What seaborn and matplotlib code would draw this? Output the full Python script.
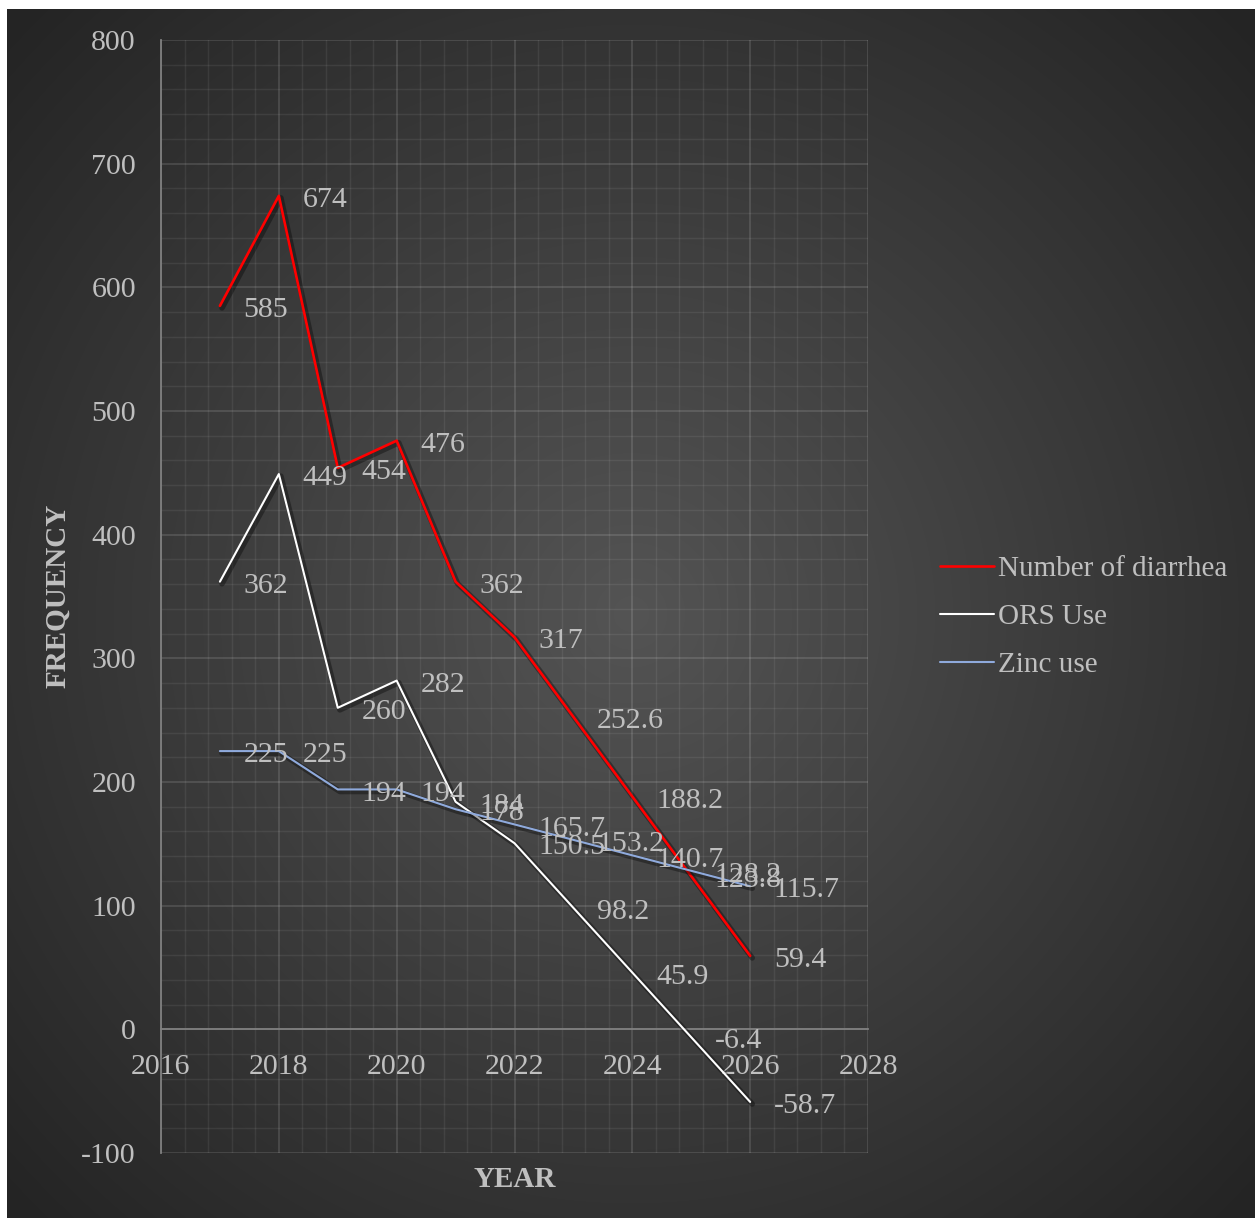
import numpy as np
import pandas as pd
import matplotlib
matplotlib.use('Agg')
import matplotlib.pyplot as plt
import matplotlib.patheffects as pe
from matplotlib.lines import Line2D
from matplotlib.ticker import MultipleLocator, FixedLocator
import seaborn as sns

sns.set_style('dark')
plt.rcParams['font.family'] = ['Liberation Serif', 'DejaVu Serif']
plt.rcParams['axes.unicode_minus'] = False

# 数据
years = [2017, 2018, 2019, 2020, 2021, 2022, 2023, 2024, 2025, 2026]
diarrhea = [585, 674, 454, 476, 362, 317, 252.6, 188.2, 123.8, 59.4]
ors_use = [362, 449, 260, 282, 184, 150.5, 98.2, 45.9, -6.4, -58.7]
zinc_use = [225, 225, 194, 194, 178, 165.7, 153.2, 140.7, 128.2, 115.7]
series_names = ['Number of diarrhea', 'ORS Use', 'Zinc use']
series_colors = ['#ff0000', '#ffffff', '#8faadc']
series_widths = [1.9, 1.5, 1.5]

df = pd.DataFrame({'year': years, series_names[0]: diarrhea,
                   series_names[1]: ors_use, series_names[2]: zinc_use})

txt_color = '#bfbfbf'
W, H = 1255, 1218

fig = plt.figure(figsize=(W / 100, H / 100), dpi=100, facecolor='white')

# 背景: 径向渐变
bg = fig.add_axes([7 / W, 0, 1 - 7 / W, 1 - 9 / H], zorder=0)
gw, gh = W - 7, H - 9
gx, gy = np.meshgrid(np.arange(gw), np.arange(gh))
dist = np.hypot(gx - gw / 2, gy - gh / 2)
val = np.clip(84 - 0.056 * dist, 36, 255) / 255.0
bg.imshow(np.dstack([val, val, val]), aspect='auto', interpolation='bilinear')
bg.axis('off')

# 主图
ax = fig.add_axes([161 / W, 1 - 1153 / H, (868 - 161) / W, (1153 - 40) / H], zorder=1)
ax.patch.set_alpha(0)

shadow = [pe.SimpleLineShadow(offset=(1.5, -1.5), shadow_color='black', alpha=0.35, linewidth=4),
          pe.Normal()]
for name, color, lw in zip(series_names, series_colors, series_widths):
    sns.lineplot(data=df, x='year', y=name, ax=ax, color=color, lw=lw,
                 path_effects=shadow, legend=False, zorder=3)

# 数据标签
for name in series_names:
    for x, v in zip(df['year'], df[name]):
        ax.annotate(f'{v:g}', (x, v), xytext=(17, -3), textcoords='offset points',
                    ha='left', va='center', fontsize=21.5, color=txt_color, zorder=5)

ax.set_xlim(2016, 2028)
ax.set_ylim(-100, 800)
ax.xaxis.set_major_locator(MultipleLocator(2))
ax.xaxis.set_minor_locator(FixedLocator(np.linspace(2016, 2028, 31)))
ax.yaxis.set_major_locator(MultipleLocator(100))
ax.yaxis.set_minor_locator(MultipleLocator(20))

ax.grid(which='major', color='white', alpha=0.14, lw=1.2)
ax.grid(which='minor', color='white', alpha=0.07, lw=1.0)
ax.set_axisbelow(True)

for s in ['top', 'right']:
    ax.spines[s].set_visible(False)
ax.spines['bottom'].set_position(('data', 0))
for s in ['bottom', 'left']:
    ax.spines[s].set_color('#808080')
    ax.spines[s].set_linewidth(1.3)

ax.tick_params(which='major', direction='out', length=6, width=1.3, color='#808080',
               pad=12, labelsize=21.5, labelcolor=txt_color)
ax.tick_params(which='minor', length=0)
ax.set_xlabel('')
ax.set_ylabel('')

ax.text(0.5, -0.012, 'YEAR', transform=ax.transAxes, ha='center', va='top',
        fontsize=21, fontweight='bold', color=txt_color)
fig.text(58 / W, 1 - 596 / H, 'FREQUENCY', rotation=90, ha='center', va='center',
         fontsize=21, fontweight='bold', color=txt_color)

# 图例
handles = [Line2D([], [], color=c, lw=lw) for c, lw in zip(series_colors, series_widths)]
fig.legend(handles, series_names, loc='center left', bbox_to_anchor=(940 / W, 1 - 617 / H),
           frameon=False, fontsize=21, handlelength=1.85, handletextpad=0.15,
           labelspacing=0.75, borderpad=0, borderaxespad=0, labelcolor=txt_color)

fig.savefig('out.png', dpi=100, facecolor='white')
